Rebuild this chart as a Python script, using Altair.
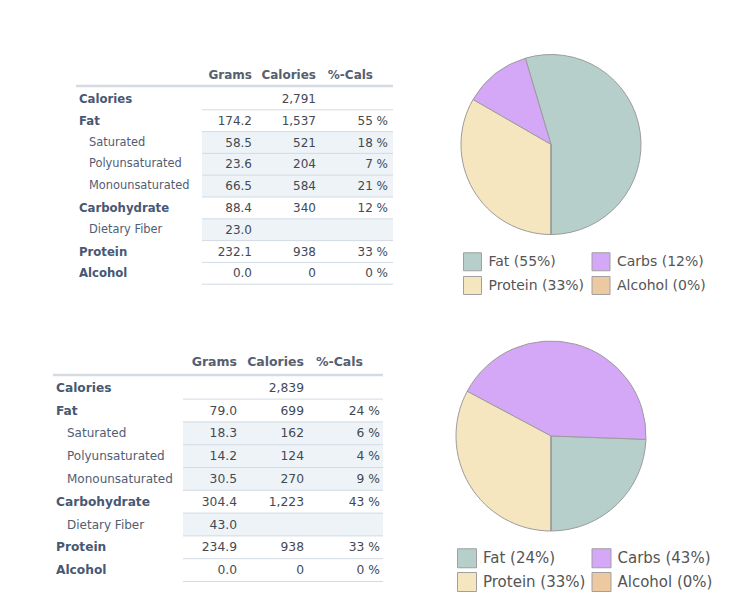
import math
import altair as alt
import pandas as pd

# ---------------- data ----------------
rows = ["Calories", "Fat", "Saturated", "Polyunsaturated", "Monounsaturated",
        "Carbohydrate", "Dietary Fiber", "Protein", "Alcohol"]
sub_rows = ["Saturated", "Polyunsaturated", "Monounsaturated", "Dietary Fiber"]
columns = ["Grams", "Calories", "%-Cals"]

grams_1 = [None, 174.2, 58.5, 23.6, 66.5, 88.4, 23.0, 232.1, 0.0]
cals_1 = [2791, 1537, 521, 204, 584, 340, None, 938, 0]
pcts_1 = [None, 55, 18, 7, 21, 12, None, 33, 0]

grams_2 = [None, 79.0, 18.3, 14.2, 30.5, 304.4, 43.0, 234.9, 0.0]
cals_2 = [2839, 699, 162, 124, 270, 1223, None, 938, 0]
pcts_2 = [None, 24, 6, 4, 9, 43, None, 33, 0]

macros = ["Fat", "Carbs", "Protein", "Alcohol"]
macro_cals_1 = [1537, 340, 938, 0]
macro_pcts_1 = [55, 12, 33, 0]
macro_cals_2 = [699, 1223, 938, 0]
macro_pcts_2 = [24, 43, 33, 0]
macro_colors = ["#b6cfcb", "#d4a7f7", "#f6e6bf", "#ecc9a0"]

# ---------------- layout anchors (scale config) ----------------
X_ANCHORS = ["tableLeft", "labelLeft", "dataLeft", "Grams", "Calories",
             "pctHead", "%-Cals", "tableRight"]
XI = {k: i for i, k in enumerate(X_ANCHORS)}
HEAD_ANCHOR = {"Grams": "Grams", "Calories": "Calories", "%-Cals": "pctHead"}
Y_DOMAIN = [-2, -1, 0, len(rows)]  # header text, header line, rows top, rows bottom

FONT = "DejaVu Sans"
LABEL_COLOR = "#475874"
SUB_COLOR = "#525d74"
NUM_COLOR = "#434953"
HEAD_COLOR = "#56606f"
LINE_COLOR = "#d2dae3"
SHADE_COLOR = "#edf3f7"


def fmt_col(col, g, c, p):
    if col == "Grams":
        return None if g is None else f"{g:.1f}"
    if col == "Calories":
        return None if c is None else f"{c:,}"
    return None if p is None else f"{p} %"


def make_table(grams, cals, pcts, x_rng, y_rng, fs, width, height):
    xs = alt.Scale(domain=list(range(len(X_ANCHORS))), range=x_rng, nice=False, zero=False)
    ys = alt.Scale(domain=Y_DOMAIN, range=y_rng, nice=False, zero=False)

    shade = pd.DataFrame({
        "y": [i for i, r in enumerate(rows) if r in sub_rows],
    })
    shade["y2"] = shade["y"] + 1
    shade["x"] = XI["dataLeft"]
    shade["x2"] = XI["tableRight"]

    lines = pd.DataFrame({"y": [i + 1 for i in range(len(rows))]})
    lines["x"] = XI["dataLeft"]
    lines["x2"] = XI["tableRight"]

    head_line = pd.DataFrame({"y": [-1], "x": [XI["tableLeft"]], "x2": [XI["tableRight"]]})

    heads = pd.DataFrame({
        "text": columns,
        "x": [XI[HEAD_ANCHOR[c]] for c in columns],
        "y": [-2] * len(columns),
    })

    labels = pd.DataFrame({
        "text": rows,
        "x": [XI["labelLeft"]] * len(rows),
        "y": [i + 0.5 for i in range(len(rows))],
        "sub": [r in sub_rows for r in rows],
    })

    vals = []
    for i, r in enumerate(rows):
        for col in columns:
            t = fmt_col(col, grams[i], cals[i], pcts[i])
            if t is not None:
                vals.append({"text": t, "x": XI[col], "y": i + 0.5})
    vals = pd.DataFrame(vals)

    X = lambda f: alt.X(f, type="quantitative", scale=xs, axis=None)
    Y = lambda f: alt.Y(f, type="quantitative", scale=ys, axis=None)

    l_shade = alt.Chart(shade).mark_rect(fill=SHADE_COLOR).encode(
        x=X("x"), x2="x2", y=Y("y"), y2="y2")
    l_lines = alt.Chart(lines).mark_rule(stroke=LINE_COLOR, strokeWidth=1).encode(
        x=X("x"), x2="x2", y=Y("y"))
    l_head_line = alt.Chart(head_line).mark_rule(stroke="#d4dbe3", strokeWidth=2.5).encode(
        x=X("x"), x2="x2", y=Y("y"))
    l_heads = alt.Chart(heads).mark_text(
        align="right", baseline="middle", font=FONT, fontSize=fs["head"],
        fontWeight="bold", color=HEAD_COLOR).encode(x=X("x"), y=Y("y"), text="text:N")
    l_main = alt.Chart(labels).transform_filter("!datum.sub").mark_text(
        align="left", baseline="middle", font=FONT, fontSize=fs["label"],
        fontWeight="bold", color=LABEL_COLOR).encode(x=X("x"), y=Y("y"), text="text:N")
    l_sub = alt.Chart(labels).transform_filter("datum.sub").mark_text(
        align="left", baseline="middle", font=FONT, fontSize=fs["sub"], dx=fs["indent"],
        color=SUB_COLOR).encode(x=X("x"), y=Y("y"), text="text:N")
    l_vals = alt.Chart(vals).mark_text(
        align="right", baseline="middle", font=FONT, fontSize=fs["num"],
        color=NUM_COLOR).encode(x=X("x"), y=Y("y"), text="text:N")

    return alt.layer(l_shade, l_lines, l_head_line, l_heads, l_main, l_sub, l_vals).properties(
        width=width, height=height)


def make_pie(cals, pcts, radius, width, height, lg):
    labels = [f"{m} ({p}%)" for m, p in zip(macros, pcts)]
    df = pd.DataFrame({"label": labels, "cal": cals, "idx": list(range(len(macros)))})
    return alt.Chart(df).mark_arc(radius=radius, stroke="#9c9c9c", strokeWidth=1).encode(
        theta=alt.Theta("cal:Q", stack=True, scale=alt.Scale(range=[math.pi, -math.pi])),
        order=alt.Order("idx:Q"),
        color=alt.Color("label:N", scale=alt.Scale(domain=labels, range=macro_colors),
                        legend=alt.Legend(
                            title=None, orient="none", legendX=lg["x"], legendY=lg["y"],
                            direction="horizontal", columns=2,
                            symbolType="square", symbolSize=lg["sym"] ** 2,
                            symbolStrokeColor="#a0a0a0", symbolStrokeWidth=1,
                            symbolOpacity=1, labelFont=FONT, labelFontSize=lg["fs"],
                            labelColor="#555555", labelOffset=lg["off"],
                            columnPadding=lg["colpad"], rowPadding=lg["rowpad"],
                            padding=0)),
    ).properties(width=width, height=height)


table1 = make_table(grams_1, cals_1, pcts_1,
                    x_rng=[76, 79, 202, 252, 316, 373, 388, 393],
                    y_rng=[75, 86, 88, 284.2],
                    fs={"head": 12, "label": 11.7, "sub": 11.4, "num": 12, "indent": 10},
                    width=441, height=289)
pie1 = make_pie(macro_cals_1, macro_pcts_1, 90, 220, 289,
                {"x": 22, "y": 252, "sym": 18, "fs": 14, "off": 6.5, "colpad": 4.5, "rowpad": 1})

table2 = make_table(grams_2, cals_2, pcts_2,
                    x_rng=[53, 56, 183, 237, 304, 363, 380, 383],
                    y_rng=[62, 75, 76.3, 281.5],
                    fs={"head": 12.5, "label": 12.2, "sub": 12, "num": 12.3, "indent": 11},
                    width=441, height=272)
pie2 = make_pie(macro_cals_2, macro_pcts_2, 95, 220, 272,
                {"x": 16, "y": 248, "sym": 19, "fs": 15, "off": 6, "colpad": 3.5, "rowpad": 0})

res = dict(x="independent", y="independent", color="independent", theta="independent")
chart = alt.concat(table1, pie1, table2, pie2, columns=2, bounds="flush",
                   spacing={"row": 11, "column": 0}).resolve_scale(**res).properties(
    padding=0, background="white").configure_view(strokeWidth=0)

chart.save("out.html", embed_options={"renderer": "svg", "actions": False})
